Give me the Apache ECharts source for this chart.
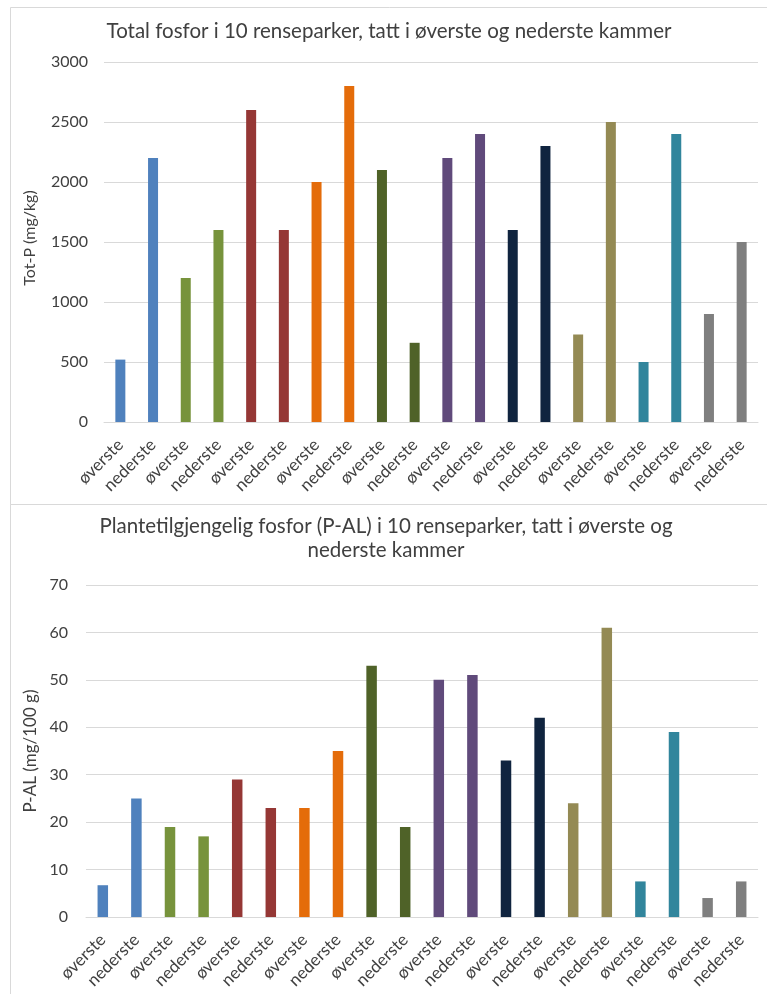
<!DOCTYPE html>
<html>
<head>
<meta charset="utf-8">
<script src="https://cdn.jsdelivr.net/npm/echarts@6/dist/echarts.min.js"></script>
<style>
html,body{margin:0;padding:0;background:#fff;}
#c{width:767px;height:994px;}
</style>
</head>
<body>
<div id="c"></div>
<script>
const categories = ['øverste','nederste','øverste','nederste','øverste','nederste','øverste','nederste','øverste','nederste',
  'øverste','nederste','øverste','nederste','øverste','nederste','øverste','nederste','øverste','nederste'];
const totP = [520,2200,1200,1600,2600,1600,2000,2800,2100,660,2200,2400,1600,2300,730,2500,500,2400,900,1500];
const pAL = [6.7,25,19,17,29,23,23,35,53,19,50,51,33,42,24,61,7.5,39,4,7.5];
const topTitle = 'Total fosfor i 10 renseparker, tatt i øverste og nederste kammer';
const bottomTitle = 'Plantetilgjengelig fosfor (P-AL) i 10 renseparker, tatt i øverste og\nnederste kammer';
const topAxisName = 'Tot-P (mg/kg)';
const bottomAxisName = 'P-AL (mg/100 g)';

const parkColors = ['#4F81BD','#77933C','#953735','#E46C0A','#4F6228','#604A7B','#10243F','#948A54','#31859C','#7F7F7F'];
const FONT = 'Lato';
const TXT = '#404040';
const GRID = '#D9D9D9';

function items(vals){
  return vals.map((v,i)=>({value:v,itemStyle:{color:parkColors[Math.floor(i/2)]}}));
}
function xAxis(gi){
  return {type:'category',gridIndex:gi,data:categories,
    axisLine:{lineStyle:{color:GRID}},axisTick:{show:false},
    axisLabel:{rotate:45,color:TXT,fontFamily:FONT,fontSize:17,margin:20,interval:0}};
}
function yAxis(gi,max,interval,name,gap,nameSize,namePad,labMargin){
  return {type:'value',gridIndex:gi,min:0,max:max,interval:interval,
    name:name,nameLocation:'middle',nameGap:gap,
    nameTextStyle:{color:TXT,fontFamily:FONT,fontSize:nameSize,padding:namePad},
    axisLine:{show:false},axisTick:{show:false},
    splitLine:{lineStyle:{color:GRID,width:1}},
    axisLabel:{color:TXT,fontFamily:FONT,fontSize:16,margin:labMargin,formatter:v=>String(v)}};
}
const chart = echarts.init(document.getElementById('c'));
chart.setOption({
  animation:false,
  backgroundColor:'#fff',
  graphic:[
    {type:'rect',shape:{x:10.5,y:7.5,width:770,height:497},style:{fill:'none',stroke:GRID,lineWidth:1}},
    {type:'rect',shape:{x:10.5,y:504.5,width:770,height:500},style:{fill:'none',stroke:GRID,lineWidth:1}}
  ],
  title:[
    {text:topTitle,left:389,top:19.5,padding:0,textAlign:'center',textStyle:{color:TXT,fontFamily:FONT,fontSize:20.5,fontWeight:'normal',lineHeight:24}},
    {text:bottomTitle,left:386,top:514,padding:0,textAlign:'center',textStyle:{color:TXT,fontFamily:FONT,fontSize:20.5,fontWeight:'normal',lineHeight:24}}
  ],
  grid:[
    {left:104,width:654,top:62,height:360},
    {left:86,width:672,top:585,height:332}
  ],
  xAxis:[xAxis(0),xAxis(1)],
  yAxis:[yAxis(0,3000,500,topAxisName,66,16,[0,0,0,8],16),yAxis(1,70,10,bottomAxisName,43,17,0,18)],
  series:[
    {type:'bar',xAxisIndex:0,yAxisIndex:0,barWidth:10,data:items(totP)},
    {type:'bar',xAxisIndex:1,yAxisIndex:1,barWidth:10.5,data:items(pAL)}
  ]
});
</script>
</body>
</html>
